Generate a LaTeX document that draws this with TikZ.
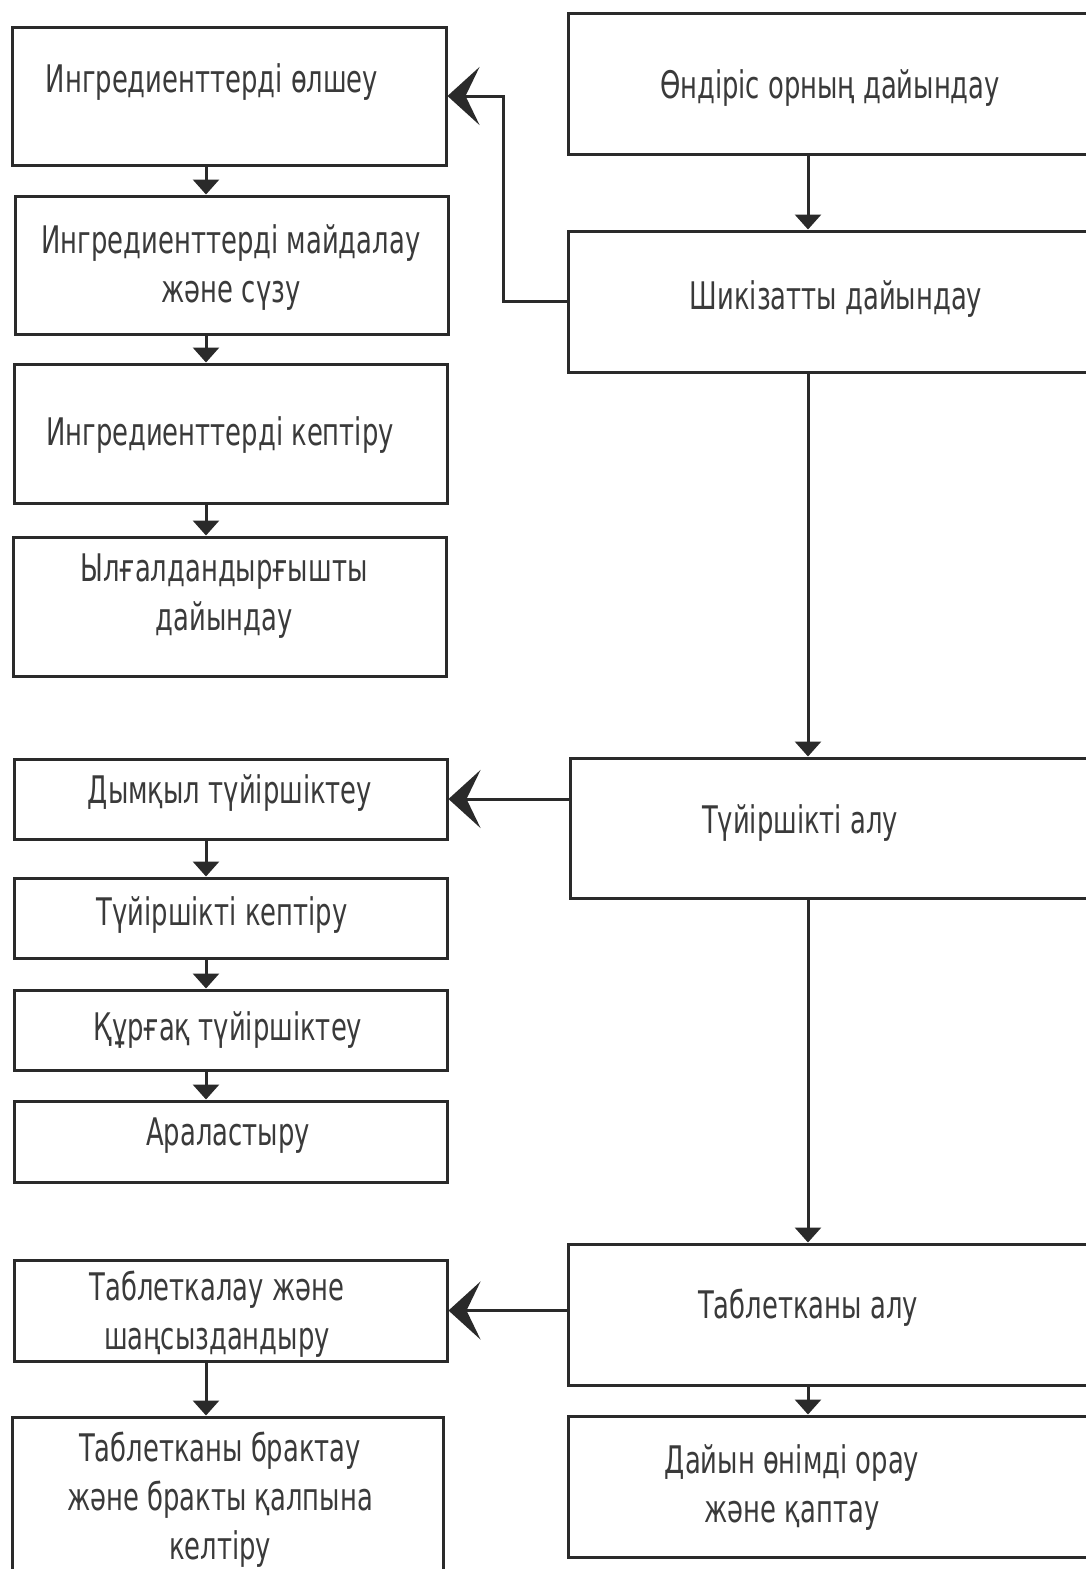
\documentclass[tikz,border=0pt]{standalone}
\usepackage{fontspec}
\newfontfamily\gost{DejaVu Sans}[FakeStretch=0.68]
\usetikzlibrary{arrows.meta}
\definecolor{ln}{HTML}{2A2A2A}
\definecolor{tx}{HTML}{3A3A3A}
\tikzset{
  box/.style={draw=ln, line width=3pt, inner sep=0pt, rectangle},
  lbl/.style={font=\gost\fontsize{38}{49}\selectfont, text=tx, align=center, inner sep=0pt},
  sarrow/.style={draw=ln, line width=3pt, -{Triangle[length=15pt, width=26pt]}},
  barrow/.style={draw=ln, line width=3pt, -{Stealth[length=32pt, width=58pt, inset=14pt]}}
}
\begin{document}
\begin{tikzpicture}[x=1pt, y=-1pt]
\clip (0,0) rectangle (1086,1569);
\fill[white] (0,0) rectangle (1086,1569);
\coordinate (lx) at (206,0);
\coordinate (rx) at (808,0);
\coordinate (jx) at (503,0);
% left column
\node[box, minimum width=434pt, minimum height=138pt] (L1) at (229,96) {};
\node[lbl] (t1) at (212,82) {Ингредиенттерді өлшеу};
\node[box, minimum width=433pt, minimum height=138pt] (L2) at (231.5,265) {};
\node[lbl] (t2) at (231,268) {Ингредиенттерді майдалау\\және сүзу};
\node[box, minimum width=433pt, minimum height=139pt] (L3) at (230.5,433.5) {};
\node[lbl] (t3) at (220,435) {Ингредиенттерді кептіру};
\node[box, minimum width=433pt, minimum height=139pt] (L4) at (229.5,606.5) {};
\node[lbl] (t4) at (224,596) {Ылғалдандырғышты\\дайындау};
\node[box, minimum width=433pt, minimum height=80pt] (L5) at (230.5,799) {};
\node[lbl] (t5) at (230,793) {Дымқыл түйіршіктеу};
\node[box, minimum width=433pt, minimum height=80pt] (L6) at (230.5,918) {};
\node[lbl] (t6) at (222,915) {Түйіршікті кептіру};
\node[box, minimum width=433pt, minimum height=80pt] (L7) at (230.5,1030) {};
\node[lbl] (t7) at (228,1030) {Құрғақ түйіршіктеу};
\node[box, minimum width=433pt, minimum height=81pt] (L8) at (230.5,1141.5) {};
\node[lbl] (t8) at (228,1136) {Араластыру};
\node[box, minimum width=433pt, minimum height=101pt] (L9) at (230.5,1310.5) {};
\node[lbl] (t9) at (217,1314) {Таблеткалау және\\шаңсыздандыру};
\node[box, minimum width=431pt, minimum height=183pt] (L10) at (227.5,1508.5) {};
\node[lbl] (t10) at (220,1500) {Таблетканы брактау\\және бракты қалпына\\келтіру};
% right column
\node[box, minimum width=532pt, minimum height=141pt] (R1) at (834,83.5) {};
\node[lbl] (r1) at (830,88) {Өндіріс орның дайындау};
\node[box, minimum width=532pt, minimum height=141pt] (R2) at (834,301.5) {};
\node[lbl] (r2) at (836,299) {Шикізатты дайындау};
\node[box, minimum width=530pt, minimum height=140pt] (R3) at (835,828) {};
\node[lbl] (r3) at (800,823) {Түйіршікті алу};
\node[box, minimum width=532pt, minimum height=141pt] (R4) at (834,1314.5) {};
\node[lbl] (r4) at (808,1308) {Таблетканы алу};
\node[box, minimum width=532pt, minimum height=141pt] (R5) at (834,1486.5) {};
\node[lbl] (r5) at (792,1487) {Дайын өнімді орау\\және қаптау};
% left vertical arrows
\draw[sarrow] (L1.south -| lx) -- (L2.north -| lx);
\draw[sarrow] (L2.south -| lx) -- (L3.north -| lx);
\draw[sarrow] (L3.south -| lx) -- (L4.north -| lx);
\draw[sarrow] (L5.south -| lx) -- (L6.north -| lx);
\draw[sarrow] (L6.south -| lx) -- (L7.north -| lx);
\draw[sarrow] (L7.south -| lx) -- (L8.north -| lx);
\draw[sarrow] (L9.south -| lx) -- (L10.north -| lx);
% right vertical arrows
\draw[sarrow] (R1.south -| rx) -- (R2.north -| rx);
\draw[sarrow] (R2.south -| rx) -- (R3.north -| rx);
\draw[sarrow] (R3.south -| rx) -- (R4.north -| rx);
\draw[sarrow] (R4.south -| rx) -- (R5.north -| rx);
% horizontal arrows
\draw[barrow] (R2.west) -- (R2.west -| jx) |- (L1.east);
\draw[barrow] (R3.west |- L5.east) -- (L5.east);
\draw[barrow] (R4.west |- L9.east) -- (L9.east);
\end{tikzpicture}
\end{document}
